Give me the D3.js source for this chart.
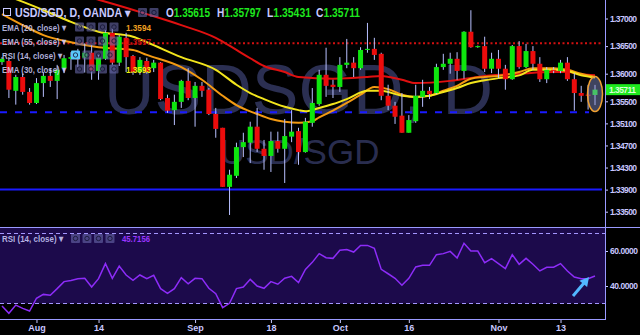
<!DOCTYPE html>
<html>
<head>
<meta charset="utf-8">
<script src="https://cdn.jsdelivr.net/npm/d3@7"></script>
<style>
body { margin: 0; background: #000; }
svg { display: block; }
text { font-family: "Liberation Sans", Arial, sans-serif; }
</style>
</head>
<body>
<svg id="chart" width="640" height="335"></svg>
<script>
// daily USD/SGD candles, OANDA (index 0 = late July)
const open = [1.3621,1.3623,1.3569,1.3594,1.3567,1.3547,1.3583,1.3596,1.3587,1.3610,
  1.3627,1.3632,1.3629,1.3638,1.3605,1.3627,1.3674,1.3620,1.3665,1.3632,
  1.3603,1.3623,1.3610,1.3620,1.3556,1.3534,1.3549,1.3587,1.3556,1.3578,
  1.3571,1.3527,1.3502,1.3395,1.3415,1.3467,1.3475,1.3504,1.3464,1.3451,
  1.3478,1.3464,1.3486,1.3496,1.3458,1.3511,1.3545,1.3598,1.3580,1.3576,
  1.3616,1.3620,1.3610,1.3643,1.3645,1.3636,1.3560,1.3542,1.3524,1.3493,
  1.3514,1.3558,1.3569,1.3565,1.3612,1.3618,1.3627,1.3605,1.3676,1.3648,
  1.3650,1.3609,1.3627,1.3609,1.3590,1.3650,1.3612,1.3641,1.3618,1.3590,
  1.3607,1.3605,1.3620,1.3590,1.3565,1.3562,1.35615];
const high = [1.3630,1.3629,1.3598,1.3600,1.3574,1.3592,1.3603,1.3610,1.3616,1.3634,
  1.3639,1.3645,1.3655,1.3652,1.3634,1.3679,1.3683,1.3670,1.3674,1.3634,
  1.3630,1.3629,1.3625,1.3621,1.3562,1.3562,1.3589,1.3610,1.3585,1.3585,
  1.3574,1.3538,1.3502,1.3426,1.3475,1.3493,1.3513,1.3538,1.3480,1.3495,
  1.3495,1.3518,1.3534,1.3502,1.3520,1.3574,1.3607,1.3647,1.3589,1.3630,
  1.3663,1.3630,1.3648,1.3692,1.3665,1.3638,1.3580,1.3549,1.3565,1.3525,
  1.3580,1.3589,1.3576,1.3618,1.3636,1.3638,1.3639,1.3677,1.3715,1.3651,
  1.3667,1.3638,1.3643,1.3616,1.3652,1.3659,1.3654,1.3650,1.3630,1.3612,
  1.3612,1.3625,1.3630,1.3601,1.3578,1.3580,1.35797];
const low = [1.3616,1.3556,1.3544,1.3562,1.3544,1.3545,1.3558,1.3576,1.3554,1.3601,
  1.3607,1.3612,1.3602,1.3589,1.3589,1.3625,1.3616,1.3614,1.3603,1.3598,
  1.3598,1.3600,1.3603,1.3552,1.3529,1.3507,1.3538,1.3552,1.3504,1.3558,
  1.3525,1.3484,1.3395,1.3344,1.3411,1.3449,1.3438,1.3458,1.3426,1.3422,
  1.3457,1.3402,1.3476,1.3435,1.3457,1.3504,1.3542,1.3558,1.3556,1.3567,
  1.3610,1.3594,1.3607,1.3638,1.3625,1.3552,1.3534,1.3509,1.3493,1.3493,
  1.3511,1.3540,1.3554,1.3563,1.3607,1.3600,1.3589,1.3591,1.3647,1.3647,
  1.3603,1.3601,1.3592,1.3571,1.3589,1.3609,1.3610,1.3607,1.3585,1.3583,
  1.3601,1.3601,1.3587,1.3533,1.3549,1.3535,1.35431];
const close = [1.3627,1.3571,1.3594,1.3567,1.3547,1.3583,1.3596,1.3587,1.3607,1.3628,
  1.3630,1.3626,1.3638,1.3605,1.3629,1.3674,1.3620,1.3667,1.3630,1.3603,
  1.3625,1.3603,1.3620,1.3554,1.3533,1.3549,1.3587,1.3556,1.3578,1.3569,
  1.3527,1.3500,1.3395,1.3417,1.3467,1.3476,1.3504,1.3464,1.3451,1.3478,
  1.3464,1.3487,1.3495,1.3458,1.3513,1.3547,1.3598,1.3578,1.3576,1.3616,
  1.3620,1.3610,1.3643,1.3645,1.3634,1.3560,1.3542,1.3522,1.3493,1.3516,
  1.3560,1.3569,1.3563,1.3612,1.3618,1.3627,1.3605,1.3676,1.3648,1.3650,
  1.3609,1.3627,1.3609,1.3590,1.3650,1.3612,1.3641,1.3618,1.3590,1.3607,
  1.3606,1.3620,1.3590,1.3565,1.3560,1.3561,1.35711];

const rsi = [28.6,24.4,29.1,27.2,25.7,33.0,35.2,34.7,38.5,42.5,
  43.2,44.2,44.4,39.4,44.2,52.8,44.4,51.4,46.3,43.2,
  46.3,44.2,46.1,38.5,35.8,38.5,44.8,41.3,44.4,44.2,
  38.7,35.6,27.6,30.1,38.5,39.4,43.8,40.0,38.7,42.5,
  41.0,44.4,45.5,42.0,49.5,53.5,58.5,56.2,55.8,60.4,
  60.8,59.4,63.2,63.2,61.5,49.5,47.0,44.4,40.4,44.4,
  50.9,51.8,51.8,57.9,58.5,59.8,56.0,64.4,60.0,60.0,
  53.3,55.6,52.8,49.9,57.9,52.4,55.8,52.4,48.6,50.7,
  50.7,52.8,48.6,45.1,44.2,44.2,45.7156];

// moving averages: [bar index, value]
const ema20 = [[0,1.3708],[3,1.3688],[6,1.3670],[10,1.3657],[14,1.3648],[19,1.3643],[21,1.3634],
  [26,1.3612],[29,1.3589],[32,1.3560],[34,1.3543],[37,1.3527],[39,1.3518],[41,1.3513],[43,1.3511],
  [45,1.3514],[46,1.3521],[48,1.3533],[50,1.3547],[52,1.3562],[54,1.3576],[56,1.3572],[58,1.3562],
  [60,1.3558],[62,1.3560],[64,1.3569],[66,1.3578],[68,1.3591],[70,1.3594],[72,1.3596],[75,1.3603],
  [77,1.3610],[80,1.3610],[82,1.3607],[84,1.3600],[86,1.3594]];
const ema30 = [[0,1.3744],[2,1.3735],[7,1.3710],[10,1.3694],[14,1.3676],[19,1.3667],[21,1.3657],
  [26,1.3630],[31,1.3607],[34,1.3580],[36,1.3565],[38,1.3554],[41,1.3540],[43,1.3534],[44,1.3532],
  [46,1.3538],[48,1.3545],[50,1.3554],[53,1.3569],[55,1.3569],[58,1.3560],[60,1.3558],[62,1.3560],
  [64,1.3567],[66,1.3574],[68,1.3583],[70,1.3588],[72,1.3592],[75,1.3597],[77,1.3607],[80,1.3607],
  [82,1.3605],[84,1.3597],[86,1.3593]];
const ema55 = [[0,1.3782],[7,1.3757],[14,1.3734],[21,1.3708],[26,1.3688],[31,1.3665],[34,1.3643],
  [36,1.3628],[38,1.3614],[41,1.3603],[43,1.3594],[48,1.3591],[53,1.3594],[55,1.3596],[58,1.3589],
  [60,1.3583],[65,1.3587],[70,1.3596],[75,1.3600],[80,1.3603],[82,1.3603],[84,1.3599],[86,1.3597]];

const levels = [1.3655, 1.3530, 1.3390]; // resistance (dotted), support (dashed), floor (solid)
const priceTicks = [1.37, 1.365, 1.36, 1.355, 1.351, 1.347, 1.343, 1.339, 1.335];
const rsiTicks = [60, 40];
const dateTickIdx = [5, 14, 28, 39, 49, 59, 72, 81];
const dateTickLabels = ["Aug", "14", "Sep", "18", "Oct", "16", "Nov", "13"];

const lav = "#c8c8ff";
const svg = d3.select("#chart");
const x = d3.scaleLinear().domain([0, open.length - 1]).range([2, 595]);
const y = d3.scaleLinear().domain([1.335, 1.37]).range([211.7, 18.5]);
const yr = d3.scaleLinear().domain([30, 70]).range([303.5, 233.5]);

svg.append("rect").attr("width", 640).attr("height", 335).attr("fill", "#000");
svg.append("defs").append("clipPath").attr("id", "main")
  .append("rect").attr("width", 605).attr("height", 227);

// watermark
svg.append("text").attr("x", 104).attr("y", 114).attr("font-size", 70)
  .attr("fill", "rgba(78,86,150,0.55)").text("USDSGD, D");
svg.append("text").attr("x", 220).attr("y", 164).attr("font-size", 35)
  .attr("fill", "rgba(78,86,150,0.55)").text("USD/SGD");

const main = svg.append("g").attr("clip-path", "url(#main)");

// horizontal levels
main.append("line").attr("x1", 0).attr("x2", 603).attr("y1", y(levels[0])).attr("y2", y(levels[0]))
  .attr("stroke", "#d41010").attr("stroke-width", 2).attr("stroke-dasharray", "2,2.5");
main.append("line").attr("x1", 0).attr("x2", 589).attr("y1", y(levels[1])).attr("y2", y(levels[1]))
  .attr("stroke", "#1a1aff").attr("stroke-width", 2).attr("stroke-dasharray", "7,8");
main.append("line").attr("x1", 0).attr("x2", 602).attr("y1", y(levels[2])).attr("y2", y(levels[2]))
  .attr("stroke", "#1a1aff").attr("stroke-width", 2);

// moving averages
const emaLine = d3.line().x(d => x(d[0])).y(d => y(d[1])).curve(d3.curveMonotoneX);
[[ema55, "#e01010"], [ema20, "#f39a12"], [ema30, "#f2e51c"]].forEach(([s, c]) => {
  main.append("path").attr("d", emaLine(s)).attr("fill", "none")
    .attr("stroke", c).attr("stroke-width", 2);
});

// candles
const bars = d3.range(open.length);
main.selectAll(".wick").data(bars).join("line")
  .attr("x1", i => x(i)).attr("x2", i => x(i))
  .attr("y1", i => y(high[i])).attr("y2", i => y(low[i]))
  .attr("stroke", "#b8c0ff").attr("stroke-width", 1);
main.selectAll(".body").data(bars).join("rect")
  .attr("x", i => x(i) - 2.5).attr("width", 5)
  .attr("y", i => y(Math.max(open[i], close[i])))
  .attr("height", i => Math.max(1, Math.abs(y(open[i]) - y(close[i]))))
  .attr("fill", i => close[i] >= open[i] ? "#0ee60e" : "#ec0c0c");

// highlight around the last bar
const last = open.length - 1;
main.append("ellipse").attr("cx", x(last)).attr("cy", y((high[last] + low[last]) / 2) - 1)
  .attr("rx", 7.5).attr("ry", 17.5)
  .attr("fill", "rgba(140,150,210,0.45)").attr("stroke", "#f0a030").attr("stroke-width", 1.5);

// price axis
const pAxis = svg.append("g").attr("transform", "translate(605,0)")
  .call(d3.axisRight(y).tickValues(priceTicks).tickFormat(d3.format(".5f")).tickSize(3));
pAxis.select(".domain").remove();
pAxis.selectAll("line").attr("stroke", lav);
pAxis.selectAll("text").attr("fill", lav).attr("font-size", 8.5).attr("font-weight", "bold")
  .attr("x", 5).attr("textLength", 27);
svg.append("rect").attr("x", 605).attr("y", y(close[last]) - 5.5).attr("width", 35).attr("height", 11)
  .attr("fill", "#1ee81e");
svg.append("text").attr("x", 609).attr("y", y(close[last]) + 3.2).attr("font-size", 8.5)
  .attr("font-weight", "bold").attr("fill", "#d8ffd8").attr("textLength", 27)
  .text(close[last].toFixed(5));

// RSI panel
svg.append("rect").attr("x", 0).attr("y", 228).attr("width", 605).attr("height", yr(30) - 228)
  .attr("fill", "#1c0a4b");
[70, 30].forEach(v => {
  svg.append("line").attr("x1", 0).attr("x2", 605).attr("y1", yr(v)).attr("y2", yr(v))
    .attr("stroke", "#a496ff").attr("stroke-dasharray", "4,3");
});
svg.append("path").datum(rsi)
  .attr("d", d3.line().x((d, i) => x(i)).y(d => yr(d)))
  .attr("fill", "none").attr("stroke", "#8d2cf8").attr("stroke-width", 1.5);
const rAxis = svg.append("g").attr("transform", "translate(605,0)")
  .call(d3.axisRight(yr).tickValues(rsiTicks).tickFormat(d3.format(".4f")).tickSize(3));
rAxis.select(".domain").remove();
rAxis.selectAll("line").attr("stroke", lav);
rAxis.selectAll("text").attr("fill", lav).attr("font-size", 8.5).attr("font-weight", "bold")
  .attr("x", 5).attr("textLength", 28);

// arrow on the RSI
svg.append("line").attr("x1", 573).attr("y1", 296).attr("x2", 584).attr("y2", 283)
  .attr("stroke", "#52b8ff").attr("stroke-width", 3);
svg.append("polygon").attr("points", "589,277 579.4,280.7 587.1,287.1").attr("fill", "#52b8ff");

// frame
svg.append("line").attr("x1", 605.5).attr("x2", 605.5).attr("y1", 0).attr("y2", 320).attr("stroke", "#9a9aff");
svg.append("line").attr("x1", 0).attr("x2", 640).attr("y1", 227.5).attr("y2", 227.5).attr("stroke", "#9a9aff");
svg.append("line").attr("x1", 0).attr("x2", 605).attr("y1", 319.5).attr("y2", 319.5).attr("stroke", "#9a9aff");

// date axis
const dAxis = svg.append("g").attr("transform", "translate(0,320)")
  .call(d3.axisBottom(x).tickValues(dateTickIdx).tickFormat((d, i) => dateTickLabels[i]).tickSize(3));
dAxis.select(".domain").remove();
dAxis.selectAll("line").attr("stroke", lav);
dAxis.selectAll("text").attr("fill", lav).attr("font-size", 9).attr("font-weight", "bold").attr("dy", "0.55em");

// legends
function icons(x0, yc, n, hi) {
  for (let k = 0; k < n; k++) {
    const bx = x0 + k * 11.5;
    svg.append("rect").attr("x", bx).attr("y", yc - 4.5).attr("width", 9).attr("height", 9)
      .attr("rx", 1).attr("fill", hi && k === 0 ? "#5ac8fa" : "rgba(105,105,170,0.6)");
    svg.append("circle").attr("cx", bx + 4.5).attr("cy", yc).attr("r", 2.2)
      .attr("fill", "none").attr("stroke", "rgba(20,20,50,0.8)").attr("stroke-width", 1);
  }
}
// one text element per legend item; parts = [[string, colour], ...]
function label(parts, x0, yb, size, len) {
  const t = svg.append("text").attr("x", x0).attr("y", yb).attr("font-size", size)
    .attr("font-weight", "bold").attr("textLength", len).attr("lengthAdjust", "spacingAndGlyphs");
  parts.forEach(([s, c]) => t.append("tspan").attr("fill", c).text(s));
}

svg.append("rect").attr("x", 3.5).attr("y", 8.5).attr("width", 7).attr("height", 7)
  .attr("fill", "none").attr("stroke", lav);
label([["USD/SGD, D, OANDA ▾", lav]], 15, 17, 12, 115);
icons(138, 12.5, 2, false);
const ohlc = [["O", open[last], 166], ["H", high[last], 217], ["L", low[last], 267], ["C", close[last], 316]];
ohlc.forEach(([k, v, px]) => {
  label([[k, lav], [v.toFixed(5), "#1ee81e"]], px, 17, 12, 44);
});

const legendFill = "rgba(210,210,255,0.85)";
const rows = [["EMA (20, close) ▾", 30.5, ema20, "#f0a020", false],
  ["EMA (55, close) ▾", 44.5, ema55, "#c01010", false],
  ["RSI (14, close) ▾", 58.5, null, null, true],
  ["EMA (30, close) ▾", 72.5, ema30, "#eeee10", false]];
rows.forEach(([t, yb, s, c, hi]) => {
  label([[t, legendFill]], 2, yb, 9.5, hi ? 60 : 64);
  icons(hi ? 71 : 75, yb - 3.5, 4, hi);
  if (s) label([[s[s.length - 1][1].toFixed(4), c]], 126, yb, 9.5, 25);
});

label([["RSI (14, close) ▾", legendFill]], 2, 242, 9.5, 61);
icons(71, 238.5, 4, false);
label([[rsi[last].toFixed(4), "#9a35ff"]], 122, 242, 9.5, 28);
</script>
</body>
</html>
